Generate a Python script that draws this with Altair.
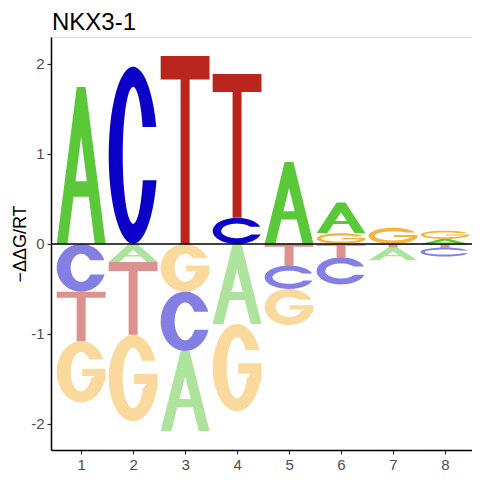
import math
import altair as alt
import pandas as pd

# ---- data ----
positions = [1, 2, 3, 4, 5, 6, 7, 8]
up_letters = [["A"], ["C"], ["T"], ["C", "T"], ["A"], ["G", "A"], ["G"], ["A", "G"]]
up_heights = [[1.745], [1.97], [2.09], [0.29, 1.60], [0.91], [0.12, 0.34], [0.18], [0.055, 0.093]]
down_letters = [["C", "T", "G"], ["A", "T", "G"], ["G", "C", "A"], ["A", "G"],
                ["T", "C", "G"], ["T", "C"], ["T", "A"], ["T", "C"]]
down_heights = [[0.53, 0.55, 0.68], [0.20, 0.81, 0.96], [0.53, 0.66, 0.89], [0.89, 0.97],
                [0.24, 0.26, 0.40], [0.15, 0.30], [0.04, 0.14], [0.04, 0.10]]
x_ticks = [1, 2, 3, 4, 5, 6, 7, 8]
y_ticks = [-2, -1, 0, 1, 2]
title_text = "NKX3-1"
y_title = "−ΔΔG/RT"

# ---- layout / style ----
W, H = 421, 413
XDOM = [0.42, 8.52]
YDOM = [-2.29, 2.30]
LETTER_W = 0.94
px_x = W / (XDOM[1] - XDOM[0])
px_y = H / (YDOM[1] - YDOM[0])
w_px = LETTER_W * px_x
letter_colors = ["#5BC83A", "#0A00C8", "#F5B43C", "#BA261E"]
FONT = "Liberation Sans"


# ---- glyph outlines in a unit box (u right, v up) ----
def ellipse_pts(rx, ry, a0, a1, n=48):
    pts = []
    for i in range(n + 1):
        a = math.radians(a0 + (a1 - a0) * i / n)
        pts.append((0.5 + rx * math.cos(a), 0.5 + ry * math.sin(a)))
    return pts


def glyph_T(w, h):
    bar = 0.125
    s = 4.5 / w
    return [[(0, 1), (1, 1), (1, 1 - bar), (0.5 + s, 1 - bar), (0.5 + s, 0),
             (0.5 - s, 0), (0.5 - s, 1 - bar), (0, 1 - bar)]]


def glyph_A(w, h):
    leg, slope, c0, c1 = 0.22, 0.41, 0.30, 0.40
    outer = [(0, 0), (leg, 0), (leg + slope * c0, c0), (1 - leg - slope * c0, c0),
             (1 - leg, 0), (1, 0), (1 - slope, 1), (slope, 1)]
    apex = (0.5 - leg) / slope
    hole = [(leg + slope * c1, c1), (0.5, apex), (1 - leg - slope * c1, c1)]
    return [outer, hole]


def strokes(w, h):
    th = min(14.0, 2 + 0.25 * h) / w
    tv = min(0.22 * h, 6 + 0.08 * h) / h
    return th, tv


def asind(v):
    return math.degrees(math.asin(max(-1.0, min(1.0, v))))


def glyph_C(w, h):
    th, tv = strokes(w, h)
    rx, ry = 0.5 - th, 0.5 - tv
    yu, yl = 0.66, 0.36
    a1 = asind((yu - 0.5) / 0.5)
    a2 = 360 + asind((yl - 0.5) / 0.5)
    b1 = asind((yu - 0.5) / ry)
    b2 = 360 + asind((yl - 0.5) / ry)
    pts = ellipse_pts(0.5, 0.5, a1, a2) + ellipse_pts(rx, ry, b2, b1)
    return [pts]


def glyph_G(w, h):
    th, tv = strokes(w, h)
    rx, ry = 0.5 - th, 0.5 - tv
    yu = 0.70
    a1 = asind((yu - 0.5) / 0.5)
    b1 = asind((yu - 0.5) / ry)
    ts = 0.75 * th
    pts = ellipse_pts(0.5, 0.5, a1, 340)
    pts += [(1.0, 0.38), (1.0, 0.55), (0.52, 0.55), (0.52, 0.43), (1 - ts, 0.43)]
    pts += ellipse_pts(rx, ry, 340, b1)
    return [pts]


GLYPHS = {"A": glyph_A, "C": glyph_C, "G": glyph_G, "T": glyph_T}


def letter_path(letter, h_px):
    aspect = h_px / w_px
    parts = []
    for poly in GLYPHS[letter](w_px, h_px):
        cmds = []
        for i, (u, v) in enumerate(poly):
            X = (u - 0.5) * 2
            Y = -(v - 0.5) * 2 * aspect
            cmds.append(("M" if i == 0 else "L") + f"{X:.4f},{Y:.4f}")
        parts.append("".join(cmds) + "Z")
    return "".join(parts)


rows = []
for p, ls, hs in zip(positions, up_letters, up_heights):
    base = 0.0
    for l, hgt in zip(ls, hs):
        rows.append({"pos": p, "letter": l, "side": "up", "yc": base + hgt / 2, "h": hgt})
        base += hgt
for p, ls, hs in zip(positions, down_letters, down_heights):
    base = 0.0
    for l, hgt in zip(ls, hs):
        rows.append({"pos": p, "letter": l, "side": "down", "yc": -(base + hgt / 2), "h": hgt})
        base += hgt
df = pd.DataFrame(rows)
df["path"] = [letter_path(l, hh * px_y) for l, hh in zip(df["letter"], df["h"])]

LABEL_EXPR = "replace(datum.label, '\u2212', '-')"

x_enc = alt.X("pos:Q", scale=alt.Scale(domain=XDOM, nice=False, zero=False),
              axis=alt.Axis(values=x_ticks, title=None, grid=False, format="d",
                            domainColor="black", domainWidth=1.5, tickColor="#333333",
                            tickSize=4, tickWidth=1.2, labelColor="#4D4D4D", labelFontSize=15,
                            labelFont=FONT, labelPadding=3))
y_enc = alt.Y("yc:Q", scale=alt.Scale(domain=YDOM, nice=False, zero=False),
              axis=alt.Axis(values=y_ticks, title=y_title, grid=False, format="d",
                            labelExpr=LABEL_EXPR,
                            domainColor="black", domainWidth=1.5, tickColor="#333333",
                            tickSize=4, tickWidth=1.2, labelColor="#4D4D4D", labelFontSize=15,
                            labelFont=FONT, labelPadding=3, titleFont=FONT,
                            titleFontSize=18, titleFontWeight="normal", titleColor="black",
                            titlePadding=1))

letters = alt.Chart(df).mark_point(filled=True, strokeWidth=0, size=w_px ** 2).encode(
    x=x_enc,
    y=y_enc,
    shape=alt.Shape("path:N", scale=None, legend=None),
    color=alt.Color("letter:N", scale=alt.Scale(domain=["A", "C", "G", "T"], range=letter_colors),
                    legend=None),
    opacity=alt.Opacity("side:N", scale=alt.Scale(domain=["up", "down"], range=[1.0, 0.5]),
                        legend=None),
)

zero = alt.Chart(pd.DataFrame({"z": [0]})).mark_rule(color="black", strokeWidth=1.4).encode(
    y=alt.Y("z:Q")
)

title = alt.Chart(pd.DataFrame({"t": [title_text]})).mark_text(
    align="left", baseline="alphabetic", font=FONT, fontSize=24, color="black"
).encode(x=alt.value(1), y=alt.value(-7), text="t:N")

chart = alt.layer(letters, zero, title).properties(
    width=W, height=H,
    autosize=alt.AutoSizeParams(type="none"),
    padding={"left": 43, "top": 29, "right": 0, "bottom": 22},
).configure_view(stroke=None).configure(background="white")

chart.save("out.html", embed_options={"renderer": "svg", "actions": False})
